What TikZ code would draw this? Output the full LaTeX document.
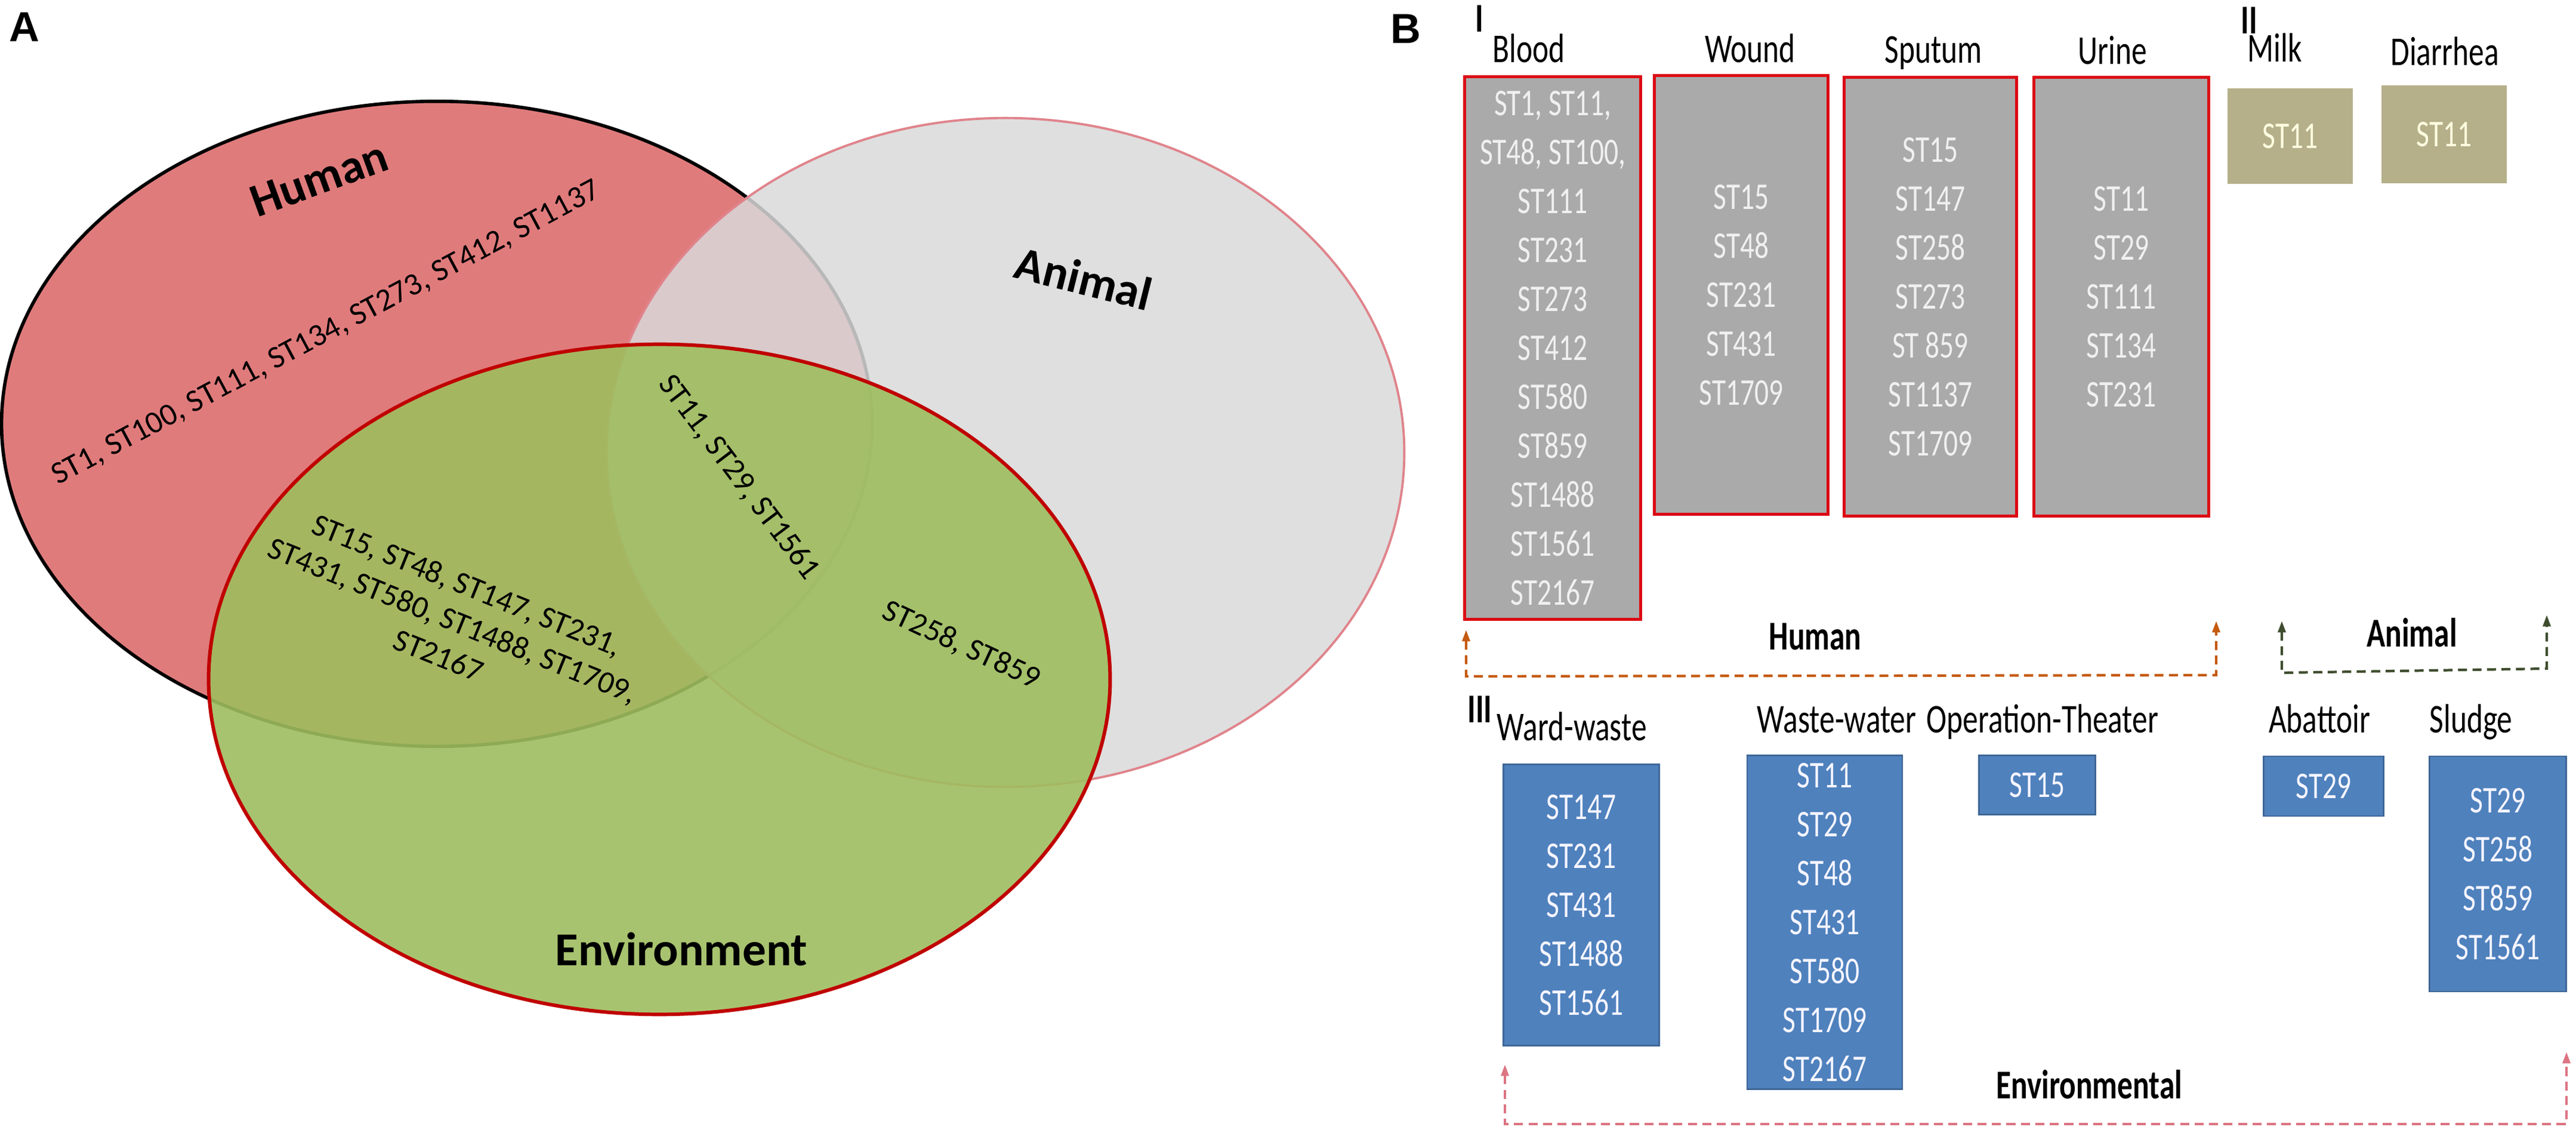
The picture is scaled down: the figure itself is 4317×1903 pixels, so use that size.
\documentclass[tikz,border=0pt]{standalone}
\usepackage{fontspec}
\setmainfont{Carlito}
\newfontfamily\narrowfont[FakeStretch=0.75]{Carlito}
\newfontfamily\panelfont{Liberation Sans}
\usepackage{xcolor}
\usepackage{tikz}
\usetikzlibrary{arrows.meta, calc, positioning}

\definecolor{humanred}{HTML}{E07B7C}
\definecolor{animalgray}{HTML}{D9D9D9}
\definecolor{animaledge}{HTML}{E0848C}
\definecolor{envgreen}{HTML}{9FBD5F}
\definecolor{envedge}{HTML}{C00000}
\definecolor{boxgray}{HTML}{AAAAAA}
\definecolor{boxred}{HTML}{DC0A14}
\definecolor{boxkhaki}{HTML}{B5B08A}
\definecolor{boxblue}{HTML}{4F81BD}
\definecolor{arrhuman}{HTML}{C55A11}
\definecolor{arranimal}{HTML}{3F4D2E}
\definecolor{arrenv}{HTML}{DC7482}

\begin{document}
\begin{tikzpicture}[x=0.01cm, y=-0.01cm,
  venntext/.style={font=\fontsize{15}{18.1}\selectfont, align=center, inner sep=0pt},
  venntitle/.style={font=\fontsize{22.5}{27}\selectfont\bfseries, inner sep=0pt},
  panel/.style={font=\panelfont\fontsize{20}{24}\selectfont\bfseries, inner sep=0pt},
  srcbox/.style={font=\narrowfont\fontsize{18}{23.3}\selectfont, align=center, inner sep=0pt},
  hbox/.style={srcbox, fill=boxgray, draw=boxred, line width=1.4pt, text=white!94!black},
  abox/.style={srcbox, fill=boxkhaki, text=yellow!12!white},
  ebox/.style={srcbox, fill=boxblue, draw=boxblue!80!black, line width=0.7pt, text=white!96!blue},
  lbl/.style={font=\narrowfont\fontsize{19.5}{23}\selectfont, anchor=base, inner sep=0pt},
  grp/.style={font=\narrowfont\fontsize{19.5}{23}\selectfont\bfseries, anchor=base, inner sep=0pt},
  bracket/.style={dash pattern=on 4.3pt off 2.6pt, line width=1.2pt,
    {Triangle[length=5.5pt,width=3.6pt]}-{Triangle[length=5.5pt,width=3.6pt]}}]
\useasboundingbox (0,0) rectangle (4317,1903);

% A: venn of the three sources
\node (tagA)[panel] at (41,45) {A};
\filldraw[fill=humanred, draw=black, line width=1.6pt] (732,710) ellipse [x radius=7.29cm, y radius=5.40cm];
\filldraw[fill=animalgray, fill opacity=0.85, draw=animaledge, line width=1.1pt] (1685,758) ellipse [x radius=6.68cm, y radius=5.60cm];
\filldraw[fill=envgreen, fill opacity=0.9, draw=envedge, line width=1.7pt] (1105,1138) ellipse [x radius=7.55cm, y radius=5.61cm];

\node (humtitle)[venntitle, rotate=20] at (535,300) {Human};
\node (anititle)[venntitle, rotate=-14] at (1816,466) {Animal};
\node (envtitle)[venntitle, anchor=base] at (1142,1617) {Environment};

\node (humonly)[venntext, rotate=28] at (547,558) {ST1, ST100, ST111, ST134, ST273, ST412, ST1137};
\node (humenv)[venntext, rotate=-22] at (759,1039) {ST15, ST48, ST147, ST231,\\ST431, ST580, ST1488, ST1709,\\ST2167};
\node (allthree)[venntext, rotate=-53] at (1238,800) {ST11, ST29, ST1561};
\node (anienv)[venntext, rotate=-25] at (1611,1081) {ST258, ST859};

% B: sources by sample type
\node (tagB)[panel] at (2356,48) {B};

% I human samples
\node (n1)[grp] at (2479,54) {I};
\node (blood)[hbox, minimum width=2.94cm, minimum height=9.09cm] at (2602,583) {ST1, ST11,\\ST48, ST100,\\ST111\\ST231\\ST273\\ST412\\ST580\\ST859\\ST1488\\ST1561\\ST2167};
\node (wound)[hbox, minimum width=2.91cm, minimum height=7.34cm] at (2918,494) {ST15\\ST48\\ST231\\ST431\\ST1709};
\node (sputum)[hbox, minimum width=2.89cm, minimum height=7.34cm] at (3235,497) {ST15\\ST147\\ST258\\ST273\\ST 859\\ST1137\\ST1709};
\node (urine)[hbox, minimum width=2.93cm, minimum height=7.34cm] at (3555,497) {ST11\\ST29\\ST111\\ST134\\ST231};
\node (bloodlbl)[lbl] at (2562,105) {Blood};
\node (woundlbl)[lbl] at (2933,105) {Wound};
\node (sputumlbl)[lbl] at (3240,106) {Sputum};
\node (urinelbl)[lbl] at (3540,108) {Urine};

% II animal samples
\node (n2)[grp] at (3769,57) {II};
\node (milk)[abox, minimum width=2.10cm, minimum height=1.59cm] at (3838,228) {ST11};
\node (diarrhea)[abox, minimum width=2.09cm, minimum height=1.64cm] at (4096,225) {ST11};
\node (milklbl)[lbl] at (3812,104) {Milk};
\node (diarrhealbl)[lbl] at (4097,110) {Diarrhea};

% III environmental samples
\node (n3)[grp] at (2480,1210) {III};
\node (ward)[ebox, minimum width=2.61cm, minimum height=4.71cm] at (2650,1516) {ST147\\ST231\\ST431\\ST1488\\ST1561};
\node (water)[ebox, minimum width=2.60cm, minimum height=5.59cm] at (3058,1545) {ST11\\ST29\\ST48\\ST431\\ST580\\ST1709\\ST2167};
\node (theater)[ebox, minimum width=1.95cm, minimum height=0.99cm] at (3414,1315) {ST15};
\node (abattoir)[ebox, minimum width=2.01cm, minimum height=1.00cm] at (3894,1317) {ST29};
\node (sludge)[ebox, minimum width=2.29cm, minimum height=3.94cm] at (4186,1464) {ST29\\ST258\\ST859\\ST1561};
\node (wardlbl)[lbl] at (2634,1240) {Ward-waste};
\node (waterlbl)[lbl] at (3078,1227) {Waste-water};
\node (theaterlbl)[lbl] at (3423,1227) {Operation-Theater};
\node (abattoirlbl)[lbl] at (3887,1227) {Abattoir};
\node (sludgelbl)[lbl] at (4141,1227) {Sludge};

% group brackets
\coordinate (humL) at (2457,1133);
\coordinate (humR) at (3714,1131);
\coordinate (aniL) at (3824,1127);
\coordinate (aniR) at (4268,1120);
\coordinate (envL) at (2522,1883);
\coordinate (envR) at (4301,1883);
\draw[bracket, arrhuman] (humL) ++(0,-78) -- (humL) -- (humR) -- ++(0,-91);
\draw[bracket, arranimal] (aniL) ++(0,-87) -- (aniL) -- (aniR) -- ++(0,-90);
\draw[bracket, arrenv] (envL) ++(0,-100) -- (envL) -- (envR) -- ++(0,-121);
\node (humgrp)[grp] at (3042,1088) {Human};
\node (anigrp)[grp] at (4042,1083) {Animal};
\node (envgrp)[grp] at (3501,1840) {Environmental};
\end{tikzpicture}
\end{document}
